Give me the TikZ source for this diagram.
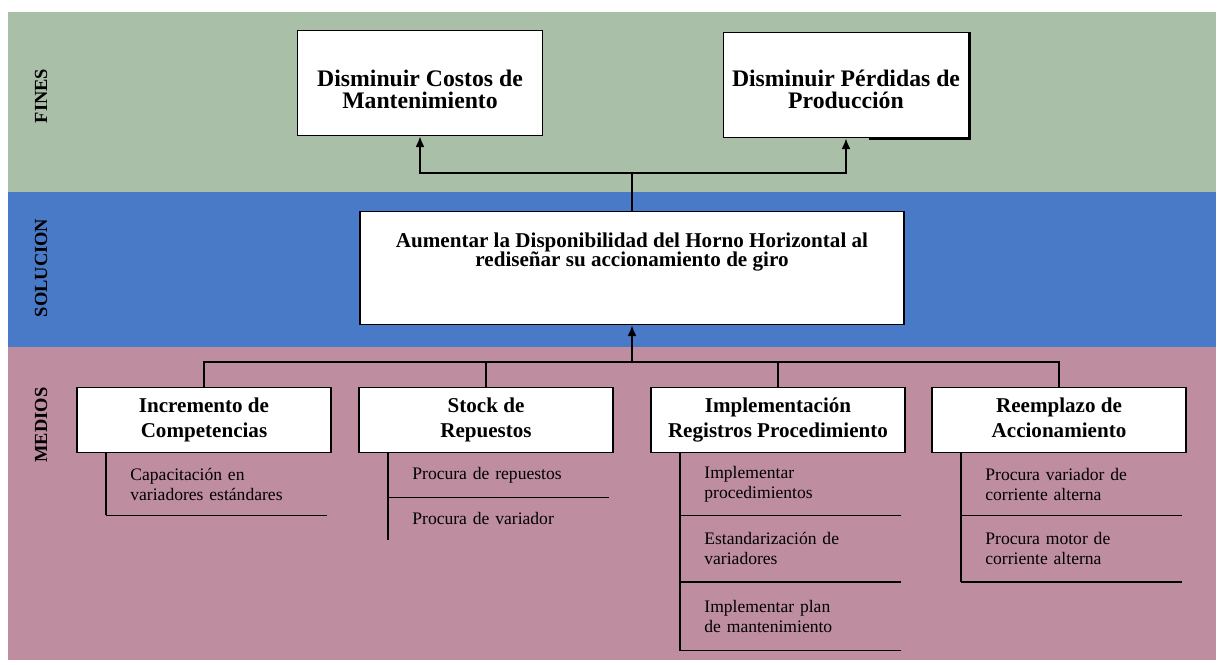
\documentclass[tikz,border=0pt]{standalone}
\usepackage{fontspec}
\setmainfont{Liberation Serif}
\usepackage{xcolor}
\usetikzlibrary{arrows.meta,positioning,calc}

\definecolor{finesgreen}{RGB}{170,191,167}
\definecolor{solblue}{RGB}{72,122,200}
\definecolor{mediospink}{RGB}{190,141,160}

\tikzset{
  bandlabel/.style={rotate=90,font=\bfseries\fontsize{10.5}{12}\selectfont},
  finbox/.style={draw,line width=1.1pt,fill=white,minimum width=4.9cm,minimum height=2.1cm},
  fintext/.style={align=center,font=\bfseries\fontsize{13.5}{12.5}\selectfont},
  solbox/.style={draw,line width=1.1pt,fill=white,minimum width=10.9cm,minimum height=2.26cm},
  soltext/.style={align=center,font=\bfseries\fontsize{12}{11}\selectfont},
  medbox/.style={draw,line width=1.1pt,fill=white,minimum width=5.08cm,minimum height=1.3cm,
    align=center,font=\bfseries\fontsize{12}{14}\selectfont},
  item/.style={anchor=north west,minimum width=4.4cm,text width=3.44cm,inner xsep=0.48cm,
    align=left,font=\fontsize{10}{11.5}\selectfont},
  conn/.style={line width=0.75pt},
  arr/.style={conn,-{Latex[length=6pt,width=5pt]}}
}

\begin{document}
\begin{tikzpicture}[x=0.02cm,y=-0.02cm]
% franjas de fondo
\path[use as bounding box,fill=white] (0,0) rectangle (1225,664);
\fill[finesgreen] (8,12) rectangle (1216,192);
\fill[solblue] (8,192) rectangle (1216,347);
\fill[mediospink] (8,347) rectangle (1216,660);
\node[bandlabel] (lfines) at (41,96) {FINES};
\node[bandlabel] (lsol) at (41,268) {SOLUCION};
\node[bandlabel] (lmedios) at (41,425) {MEDIOS};

% fines
\node[finbox] (fin1) at (420,83) {};
\node[fintext] (fin1t) at (420,89) {Disminuir Costos de\\Mantenimiento};
\node[finbox] (fin2) at (846,85) {};
\draw[line width=2pt] (fin2.north east) -- (fin2.south east) -- ([xshift=-2cm]fin2.south east);
\node[fintext] (fin2t) at (846,89) {Disminuir Pérdidas de\\Producción};

% solucion
\node[solbox] (sol) at (632,268) {};
\node[soltext] (solt) at (632,252) {Aumentar la Disponibilidad del Horno Horizontal al\\rediseñar su accionamiento de giro};

\coordinate (jf) at (632,173);
\draw[conn] (sol.north) -- (jf);
\draw[arr] (jf) -| (fin1.south);
\draw[arr] (jf) -| (fin2.south);

% medios
\node[medbox] (m1) at (204,420) {\strut Incremento de\\Competencias\strut};
\node[medbox] (m2) at (486,420) {\strut Stock de\\Repuestos\strut};
\node[medbox] (m3) at (778,420) {\strut Implementación\\Registros Procedimiento\strut};
\node[medbox] (m4) at (1059,420) {\strut Reemplazo de\\Accionamiento\strut};

\coordinate (jm) at (632,362);
\draw[arr] (jm) -- (sol.south);
\foreach \m in {m1,m2,m3,m4}
  \draw[conn] (jm) -| (\m.north);

% acciones de cada medio
\node[item,minimum height=1.22cm] (a1) at ([xshift=0.6cm]m1.south west) {Capacitación en\\variadores estándares};

\node[item,minimum height=0.86cm] (b1) at ([xshift=0.6cm]m2.south west) {Procura de repuestos};
\node[item,minimum height=0.84cm,below=0pt of b1] (b2) {Procura de variador};

\node[item,minimum height=1.22cm] (c1) at ([xshift=0.6cm]m3.south west) {Implementar\\procedimientos};
\node[item,minimum height=1.32cm,below=0pt of c1] (c2) {Estandarización de\\variadores};
\node[item,minimum height=1.36cm,below=0pt of c2] (c3) {Implementar plan\\de mantenimiento};

\node[item,minimum height=1.22cm] (d1) at ([xshift=0.6cm]m4.south west) {Procura variador de\\corriente alterna};
\node[item,minimum height=1.32cm,below=0pt of d1] (d2) {Procura motor de\\corriente alterna};

\draw[conn] (a1.north west) -- (a1.south west);
\draw[conn] (b1.north west) -- (b2.south west);
\draw[conn] (c1.north west) -- (c3.south west);
\draw[conn] (d1.north west) -- (d2.south west);
\foreach \n in {a1,b1,c1,c2,c3,d1,d2}
  \draw[conn] (\n.south west) -- (\n.south east);
\end{tikzpicture}
\end{document}
